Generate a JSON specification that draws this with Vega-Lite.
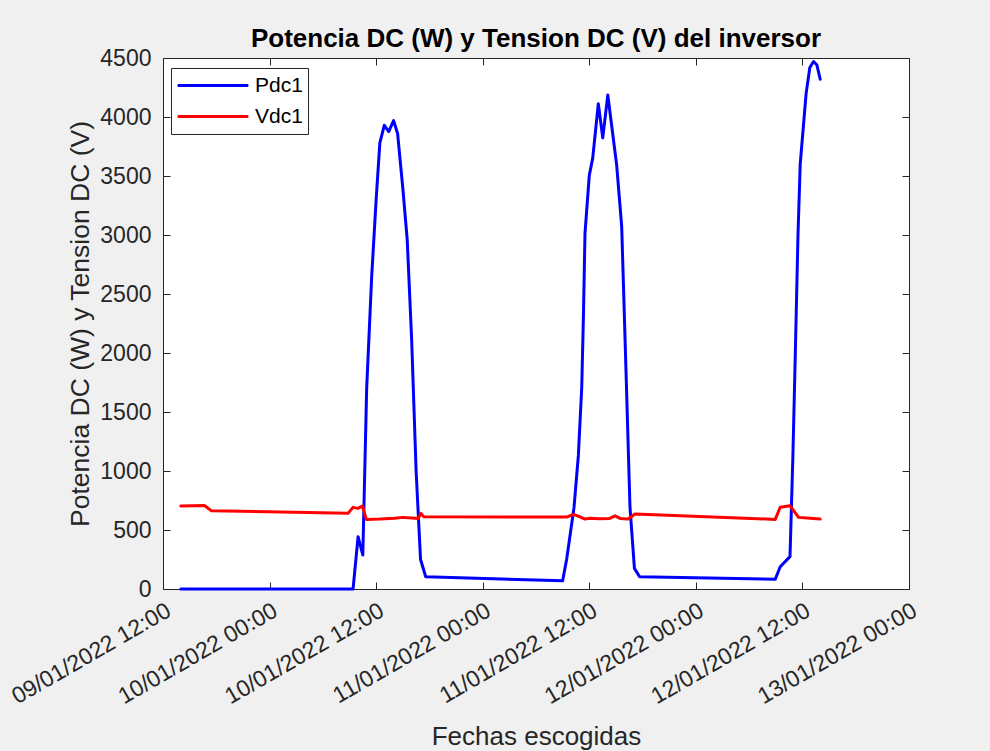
{
  "$schema": "https://vega.github.io/schema/vega-lite/v6.json",
  "width": 746,
  "height": 531,
  "autosize": {"type": "none"},
  "padding": {"left": 163, "top": 58, "right": 81, "bottom": 162},
  "background": "#F0F0F0",
  "title": {"text": "Potencia DC (W) y Tension DC (V) del inversor", "fontSize": 26, "fontWeight": "bold", "font": "Liberation Sans", "color": "#000000", "offset": -5, "anchor": "middle"},
  "config": {"view": {"fill": "white", "stroke": "#262626", "strokeWidth": 1}, "font": "Liberation Sans"},
  "data": {"values": [
    {"t": "2022-01-09T14:00", "s": "Pdc1", "v": 0},
    {"t": "2022-01-10T09:24", "s": "Pdc1", "v": 0},
    {"t": "2022-01-10T09:58", "s": "Pdc1", "v": 443},
    {"t": "2022-01-10T10:30", "s": "Pdc1", "v": 288},
    {"t": "2022-01-10T10:56", "s": "Pdc1", "v": 1700},
    {"t": "2022-01-10T11:30", "s": "Pdc1", "v": 2650},
    {"t": "2022-01-10T12:00", "s": "Pdc1", "v": 3300},
    {"t": "2022-01-10T12:25", "s": "Pdc1", "v": 3780},
    {"t": "2022-01-10T12:55", "s": "Pdc1", "v": 3930},
    {"t": "2022-01-10T13:25", "s": "Pdc1", "v": 3876},
    {"t": "2022-01-10T13:58", "s": "Pdc1", "v": 3969},
    {"t": "2022-01-10T14:25", "s": "Pdc1", "v": 3860},
    {"t": "2022-01-10T15:00", "s": "Pdc1", "v": 3400},
    {"t": "2022-01-10T15:30", "s": "Pdc1", "v": 2958},
    {"t": "2022-01-10T16:00", "s": "Pdc1", "v": 2110},
    {"t": "2022-01-10T16:30", "s": "Pdc1", "v": 1000},
    {"t": "2022-01-10T17:00", "s": "Pdc1", "v": 250},
    {"t": "2022-01-10T17:35", "s": "Pdc1", "v": 104},
    {"t": "2022-01-11T09:00", "s": "Pdc1", "v": 70},
    {"t": "2022-01-11T09:28", "s": "Pdc1", "v": 258},
    {"t": "2022-01-11T10:17", "s": "Pdc1", "v": 693},
    {"t": "2022-01-11T10:46", "s": "Pdc1", "v": 1128},
    {"t": "2022-01-11T11:09", "s": "Pdc1", "v": 1708},
    {"t": "2022-01-11T11:20", "s": "Pdc1", "v": 2288},
    {"t": "2022-01-11T11:31", "s": "Pdc1", "v": 3013},
    {"t": "2022-01-11T12:00", "s": "Pdc1", "v": 3505},
    {"t": "2022-01-11T12:23", "s": "Pdc1", "v": 3650},
    {"t": "2022-01-11T13:01", "s": "Pdc1", "v": 4113},
    {"t": "2022-01-11T13:31", "s": "Pdc1", "v": 3823},
    {"t": "2022-01-11T14:05", "s": "Pdc1", "v": 4186},
    {"t": "2022-01-11T15:05", "s": "Pdc1", "v": 3593},
    {"t": "2022-01-11T15:39", "s": "Pdc1", "v": 3071},
    {"t": "2022-01-11T16:08", "s": "Pdc1", "v": 1853},
    {"t": "2022-01-11T16:35", "s": "Pdc1", "v": 693},
    {"t": "2022-01-11T17:05", "s": "Pdc1", "v": 175},
    {"t": "2022-01-11T17:40", "s": "Pdc1", "v": 104},
    {"t": "2022-01-12T08:56", "s": "Pdc1", "v": 82},
    {"t": "2022-01-12T09:30", "s": "Pdc1", "v": 189},
    {"t": "2022-01-12T10:36", "s": "Pdc1", "v": 274},
    {"t": "2022-01-12T10:55", "s": "Pdc1", "v": 1100},
    {"t": "2022-01-12T11:12", "s": "Pdc1", "v": 2000},
    {"t": "2022-01-12T11:30", "s": "Pdc1", "v": 3000},
    {"t": "2022-01-12T11:45", "s": "Pdc1", "v": 3600},
    {"t": "2022-01-12T12:05", "s": "Pdc1", "v": 3900},
    {"t": "2022-01-12T12:25", "s": "Pdc1", "v": 4200},
    {"t": "2022-01-12T12:50", "s": "Pdc1", "v": 4420},
    {"t": "2022-01-12T13:15", "s": "Pdc1", "v": 4470},
    {"t": "2022-01-12T13:38", "s": "Pdc1", "v": 4440},
    {"t": "2022-01-12T14:00", "s": "Pdc1", "v": 4320},
    {"t": "2022-01-09T14:00", "s": "Vdc1", "v": 703},
    {"t": "2022-01-09T15:20", "s": "Vdc1", "v": 705},
    {"t": "2022-01-09T16:40", "s": "Vdc1", "v": 708},
    {"t": "2022-01-09T17:25", "s": "Vdc1", "v": 664},
    {"t": "2022-01-10T08:50", "s": "Vdc1", "v": 641},
    {"t": "2022-01-10T09:24", "s": "Vdc1", "v": 692},
    {"t": "2022-01-10T09:56", "s": "Vdc1", "v": 683},
    {"t": "2022-01-10T10:27", "s": "Vdc1", "v": 703},
    {"t": "2022-01-10T10:54", "s": "Vdc1", "v": 590},
    {"t": "2022-01-10T12:25", "s": "Vdc1", "v": 593},
    {"t": "2022-01-10T14:05", "s": "Vdc1", "v": 600},
    {"t": "2022-01-10T15:00", "s": "Vdc1", "v": 607},
    {"t": "2022-01-10T16:00", "s": "Vdc1", "v": 602},
    {"t": "2022-01-10T16:44", "s": "Vdc1", "v": 598},
    {"t": "2022-01-10T17:02", "s": "Vdc1", "v": 641},
    {"t": "2022-01-10T17:22", "s": "Vdc1", "v": 612},
    {"t": "2022-01-11T09:28", "s": "Vdc1", "v": 610},
    {"t": "2022-01-11T10:12", "s": "Vdc1", "v": 632},
    {"t": "2022-01-11T10:57", "s": "Vdc1", "v": 612},
    {"t": "2022-01-11T11:31", "s": "Vdc1", "v": 593},
    {"t": "2022-01-11T12:05", "s": "Vdc1", "v": 600},
    {"t": "2022-01-11T13:10", "s": "Vdc1", "v": 596},
    {"t": "2022-01-11T14:18", "s": "Vdc1", "v": 598},
    {"t": "2022-01-11T14:54", "s": "Vdc1", "v": 620},
    {"t": "2022-01-11T15:28", "s": "Vdc1", "v": 598},
    {"t": "2022-01-11T16:22", "s": "Vdc1", "v": 593},
    {"t": "2022-01-11T17:09", "s": "Vdc1", "v": 636},
    {"t": "2022-01-12T08:56", "s": "Vdc1", "v": 590},
    {"t": "2022-01-12T09:30", "s": "Vdc1", "v": 692},
    {"t": "2022-01-12T10:36", "s": "Vdc1", "v": 706},
    {"t": "2022-01-12T11:34", "s": "Vdc1", "v": 607},
    {"t": "2022-01-12T12:53", "s": "Vdc1", "v": 600},
    {"t": "2022-01-12T14:00", "s": "Vdc1", "v": 593}
  ]},
  "layer": [
    {
      "mark": {"type": "line", "strokeWidth": 3, "strokeJoin": "round", "strokeCap": "round"},
      "encoding": {
        "x": {"field": "t", "type": "temporal",
          "scale": {"domain": [{"year": 2022, "month": 1, "date": 9, "hours": 12}, {"year": 2022, "month": 1, "date": 13, "hours": 0}]},
          "axis": {"orient": "bottom", "title": "Fechas escogidas", "format": "%d/%m/%Y %H:%M", "labelAngle": -30,
            "values": [{"year": 2022, "month": 1, "date": 9, "hours": 12}, {"year": 2022, "month": 1, "date": 10, "hours": 0}, {"year": 2022, "month": 1, "date": 10, "hours": 12}, {"year": 2022, "month": 1, "date": 11, "hours": 0}, {"year": 2022, "month": 1, "date": 11, "hours": 12}, {"year": 2022, "month": 1, "date": 12, "hours": 0}, {"year": 2022, "month": 1, "date": 12, "hours": 12}, {"year": 2022, "month": 1, "date": 13, "hours": 0}],
            "grid": false, "tickSize": -7, "tickColor": "#262626", "domainColor": "#262626", "labelColor": "#262626", "labelFontSize": 23, "labelFont": "Liberation Sans", "labelPadding": 17, "labelFlush": false, "labelOverlap": false, "labelBound": false,
            "titleFontSize": 26, "titleFont": "Liberation Sans", "titleFontWeight": "normal", "titleColor": "#262626", "titlePadding": 15}},
        "y": {"field": "v", "type": "quantitative",
          "scale": {"domain": [0, 4500], "nice": false, "zero": true},
          "axis": {"orient": "left", "title": "Potencia DC (W) y Tension DC (V)", "values": [0, 500, 1000, 1500, 2000, 2500, 3000, 3500, 4000, 4500],
            "grid": false, "tickSize": -7, "tickColor": "#262626", "domainColor": "#262626", "labelColor": "#262626", "labelFontSize": 23, "labelFont": "Liberation Sans", "labelPadding": 19, "labelFlush": false, "labelOverlap": false, "format": "d",
            "titleFontSize": 26.5, "titleFont": "Liberation Sans", "titleFontWeight": "normal", "titleColor": "#262626", "titlePadding": 5}},
        "color": {"field": "s", "type": "nominal",
          "scale": {"domain": ["Pdc1", "Vdc1"], "range": ["#0000FF", "#FF0000"]},
          "legend": {"title": null, "orient": "none", "legendX": 8, "legendY": 10, "symbolType": "stroke", "symbolStrokeWidth": 3, "symbolSize": 5000, "clipHeight": 25, "labelFontSize": 21, "labelFont": "Liberation Sans", "labelColor": "#000000", "labelOffset": 5, "strokeColor": "#262626", "fillColor": "#FFFFFF", "padding": 5, "rowPadding": 6}}
      }
    },
    {
      "mark": {"type": "line", "opacity": 0},
      "encoding": {
        "detail": {"field": "s"},
        "x": {"field": "t", "type": "temporal",
          "axis": {"orient": "top", "title": null, "labels": false, "domain": false, "grid": false, "tickSize": -7, "tickColor": "#262626",
            "values": [{"year": 2022, "month": 1, "date": 9, "hours": 12}, {"year": 2022, "month": 1, "date": 10, "hours": 0}, {"year": 2022, "month": 1, "date": 10, "hours": 12}, {"year": 2022, "month": 1, "date": 11, "hours": 0}, {"year": 2022, "month": 1, "date": 11, "hours": 12}, {"year": 2022, "month": 1, "date": 12, "hours": 0}, {"year": 2022, "month": 1, "date": 12, "hours": 12}, {"year": 2022, "month": 1, "date": 13, "hours": 0}]}},
        "y": {"field": "v", "type": "quantitative",
          "axis": {"orient": "right", "title": null, "labels": false, "domain": false, "grid": false, "tickSize": -7, "tickColor": "#262626", "values": [0, 500, 1000, 1500, 2000, 2500, 3000, 3500, 4000, 4500]}}
      }
    }
  ],
  "resolve": {"axis": {"x": "independent", "y": "independent"}}
}
